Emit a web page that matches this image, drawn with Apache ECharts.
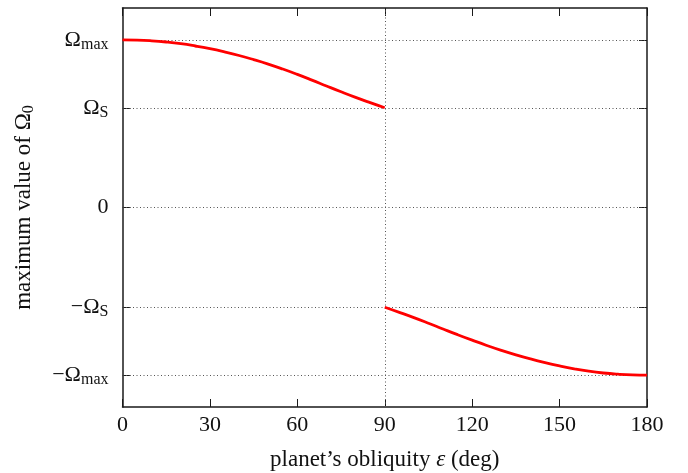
<!DOCTYPE html>
<html>
<head>
<meta charset="utf-8">
<script src="https://cdn.jsdelivr.net/npm/echarts@6/dist/echarts.min.js"></script>
<style>
html,body{margin:0;padding:0;background:#fff;}
#chart{width:688px;height:473px;}
</style>
</head>
<body>
<div id="chart"></div>
<script>
// ---- data ----
var epsUpper   = [0, 5, 10, 15, 20, 25, 30, 35, 40, 45, 50, 55, 60, 65, 70, 75, 80, 85, 90];
var omegaUpper = [1.680, 1.678, 1.671, 1.659, 1.642, 1.619, 1.592, 1.560, 1.524, 1.483, 1.438, 1.388, 1.334, 1.277, 1.218, 1.160, 1.104, 1.051, 1.0];
var epsLower   = [90, 95, 100, 105, 110, 115, 120, 125, 130, 135, 140, 145, 150, 155, 160, 165, 170, 175, 180];
var omegaLower = [-1.0, -1.051, -1.104, -1.160, -1.218, -1.275, -1.330, -1.383, -1.432, -1.477, -1.518, -1.555, -1.588, -1.617, -1.641, -1.659, -1.671, -1.678, -1.680];
var xTicks = [0, 30, 60, 90, 120, 150, 180];
var xGridLines = [90];
var yTickValues = [1.68, 1.0, 0, -1.0, -1.68];
var yTickLabels = ['{o|Ω}{s|max}', '{o|Ω}{s|S}', '0', '−{o|Ω}{s|S}', '−{o|Ω}{s|max}'];
var xName = 'planet’s obliquity {e|ε} (deg)';
var yName = 'maximum value of {o|Ω}{s|0}';

var FONT = 'Liberation Serif';
var AX = '#1a1a1a';
var TXT = '#111';
var labelRich = {
  o: {fontFamily: FONT, fontSize: 22, color: TXT},
  s: {fontFamily: FONT, fontSize: 16, color: TXT, padding: [10, 0, 0, 0]},
  e: {fontFamily: FONT, fontSize: 23, fontStyle: 'italic', color: TXT}
};
var nameRich = {
  o: {fontFamily: FONT, fontSize: 23, color: TXT},
  s: {fontFamily: FONT, fontSize: 16, color: TXT, padding: [10, 0, 0, 0]},
  e: {fontFamily: FONT, fontSize: 23, fontStyle: 'italic', color: TXT}
};

function yFormatter(v) {
  for (var i = 0; i < yTickValues.length; i++) {
    if (Math.abs(v - yTickValues[i]) < 1e-6) return yTickLabels[i];
  }
  return '';
}

var gridLineData = [];
yTickValues.forEach(function (v) { gridLineData.push({yAxis: v}); });
xGridLines.forEach(function (v) { gridLineData.push({xAxis: v}); });

var chart = echarts.init(document.getElementById('chart'), null, {renderer: 'canvas'});
var option = {
  animation: false,
  backgroundColor: '#fff',
  grid: {left: 122.5, top: 8, right: 41, bottom: 66, containLabel: false, outerBoundsMode: 'none'},
  xAxis: [{
    type: 'value', min: xTicks[0], max: xTicks[xTicks.length - 1], interval: xTicks[1] - xTicks[0],
    position: 'bottom',
    name: xName, nameLocation: 'middle', nameGap: 41,
    nameTextStyle: {fontFamily: FONT, fontSize: 23, color: TXT, rich: nameRich},
    axisLine: {show: true, onZero: false, lineStyle: {color: AX, width: 1.5}},
    axisTick: {show: true, inside: true, length: 8, lineStyle: {color: AX, width: 1}},
    axisLabel: {fontFamily: FONT, fontSize: 22, color: TXT, margin: 7},
    splitLine: {show: false}
  }, {
    type: 'value', min: xTicks[0], max: xTicks[xTicks.length - 1], interval: xTicks[1] - xTicks[0],
    position: 'top',
    axisLine: {show: true, onZero: false, lineStyle: {color: AX, width: 1.5}},
    axisTick: {show: true, inside: true, length: 8, lineStyle: {color: AX, width: 1}},
    axisLabel: {show: false},
    splitLine: {show: false}
  }],
  yAxis: [{
    type: 'value', min: -2, max: 2,
    position: 'left',
    name: yName, nameLocation: 'middle', nameGap: 86, nameRotate: 90,
    nameTextStyle: {fontFamily: FONT, fontSize: 23, color: TXT, rich: nameRich},
    axisLine: {show: true, onZero: false, lineStyle: {color: AX, width: 1.5}},
    axisTick: {show: true, inside: true, length: 8, customValues: yTickValues, lineStyle: {color: AX, width: 1}},
    axisLabel: {fontFamily: FONT, fontSize: 22, color: TXT, margin: 14, customValues: yTickValues,
      formatter: yFormatter, rich: labelRich},
    splitLine: {show: false}
  }, {
    type: 'value', min: -2, max: 2,
    position: 'right',
    axisLine: {show: true, onZero: false, lineStyle: {color: AX, width: 1.5}},
    axisTick: {show: true, inside: true, length: 8, customValues: yTickValues, lineStyle: {color: AX, width: 1}},
    axisLabel: {show: false},
    splitLine: {show: false}
  }],
  series: [{
    type: 'line', xAxisIndex: 0, yAxisIndex: 0,
    data: epsUpper.map(function (e, i) { return [e, omegaUpper[i]]; }),
    showSymbol: false, smooth: true, z: 5,
    lineStyle: {color: '#ff0000', width: 2.8},
    markLine: {
      silent: true, symbol: ['none', 'none'], label: {show: false},
      lineStyle: {color: '#555', width: 1, type: [1, 2.5]},
      data: gridLineData, z: 1
    }
  }, {
    type: 'line', xAxisIndex: 0, yAxisIndex: 0,
    data: epsLower.map(function (e, i) { return [e, omegaLower[i]]; }),
    showSymbol: false, smooth: true, z: 5,
    lineStyle: {color: '#ff0000', width: 2.8}
  }]
};
chart.setOption(option);
</script>
</body>
</html>
